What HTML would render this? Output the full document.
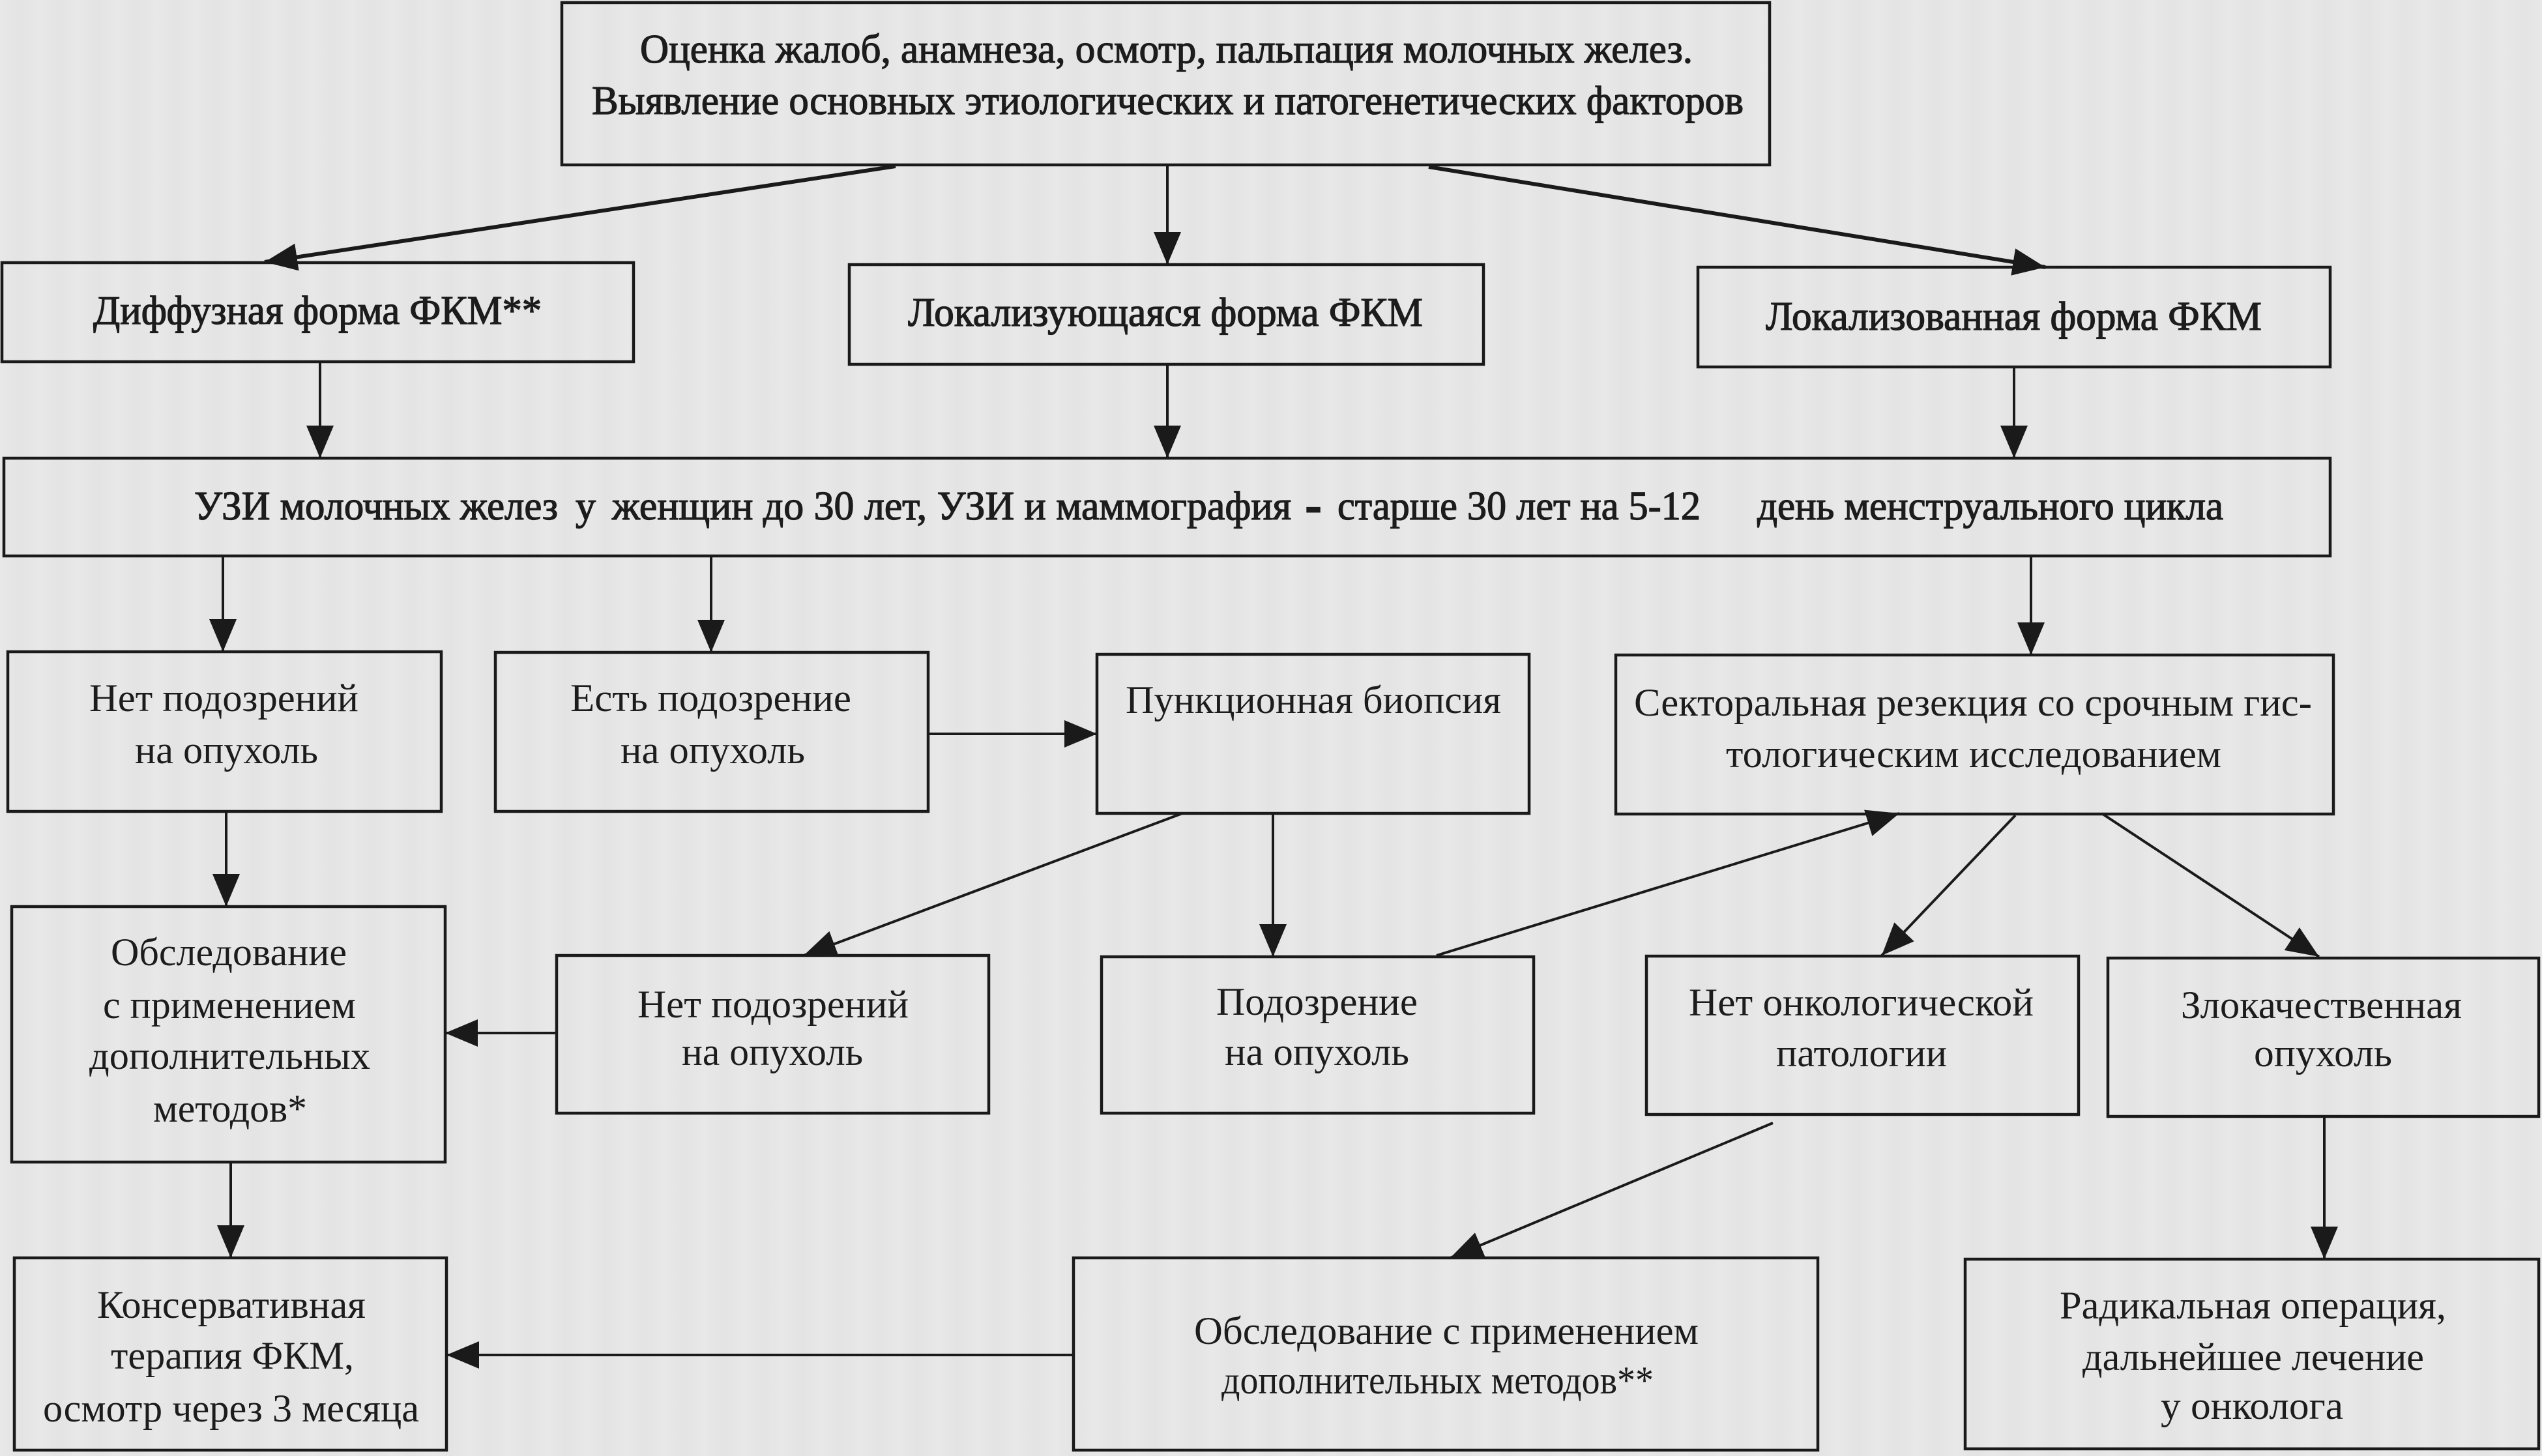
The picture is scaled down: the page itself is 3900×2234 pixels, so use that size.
<!DOCTYPE html>
<html>
<head>
<meta charset="utf-8">
<style>
  html,body{margin:0;padding:0;}
  body{width:3900px;height:2234px;overflow:hidden;
    background:#e8e8e8;
    background-image:repeating-linear-gradient(90deg, rgba(0,0,0,0.00) 0px, rgba(0,0,0,0.018) 30px, rgba(0,0,0,0.00) 60px);
  }
  svg{position:absolute;left:0;top:0;}
  text{font-family:"Liberation Serif","Noto Serif CJK SC",serif;fill:#1c1c1c;}
  .t{font-size:62px;stroke:#1c1c1c;stroke-width:1.3px;}
  .l{font-size:60px;}
</style>
</head>
<body>
<svg width="3900" height="2234" viewBox="0 0 3900 2234" xmlns="http://www.w3.org/2000/svg">
  <defs>
    <marker id="a" viewBox="0 0 50 42" refX="50" refY="21" markerWidth="50" markerHeight="42" markerUnits="userSpaceOnUse" orient="auto">
      <path d="M0,0 L50,21 L0,42 z" fill="#1a1a1a"/>
    </marker>
  </defs>

  <!-- Boxes -->
  <g fill="none" stroke="#1a1a1a" stroke-width="4.5">
    <rect x="862" y="4" width="1853" height="249"/>
    <rect x="3" y="403" width="969" height="152"/>
    <rect x="1303" y="406" width="973" height="153"/>
    <rect x="2605" y="410" width="970" height="153"/>
    <rect x="6" y="703" width="3569" height="150"/>
    <rect x="12" y="1000" width="665" height="245"/>
    <rect x="760" y="1001" width="664" height="244"/>
    <rect x="1683" y="1004" width="663" height="244"/>
    <rect x="2479" y="1005" width="1101" height="244"/>
    <rect x="18" y="1391" width="665" height="392"/>
    <rect x="854" y="1466" width="663" height="242"/>
    <rect x="1690" y="1468" width="663" height="240"/>
    <rect x="2526" y="1467" width="663" height="243"/>
    <rect x="3234" y="1470" width="661" height="243"/>
    <rect x="22" y="1930" width="663" height="295"/>
    <rect x="1647" y="1930" width="1142" height="295"/>
    <rect x="3015" y="1932" width="880" height="291"/>
  </g>

  <!-- Connectors -->
  <g fill="none" stroke="#1a1a1a" stroke-width="4" marker-end="url(#a)">
    <line x1="1374" y1="255" x2="406" y2="402" stroke-width="6"/>
    <line x1="1791" y1="253" x2="1791" y2="406"/>
    <line x1="2192" y1="256" x2="3138" y2="410" stroke-width="6"/>
    <line x1="491" y1="555" x2="491" y2="703"/>
    <line x1="1791" y1="559" x2="1791" y2="703"/>
    <line x1="3090" y1="563" x2="3090" y2="703"/>
    <line x1="342" y1="853" x2="342" y2="1000"/>
    <line x1="1091" y1="853" x2="1091" y2="1001"/>
    <line x1="3116" y1="853" x2="3116" y2="1005"/>
    <line x1="1424" y1="1126" x2="1683" y2="1126"/>
    <line x1="1814" y1="1248" x2="1233" y2="1466"/>
    <line x1="1953" y1="1248" x2="1953" y2="1468"/>
    <line x1="854" y1="1585" x2="683" y2="1585"/>
    <line x1="2204" y1="1466" x2="2914" y2="1248"/>
    <line x1="3092" y1="1251" x2="2887" y2="1466"/>
    <line x1="3226" y1="1249" x2="3558" y2="1468"/>
    <line x1="347" y1="1245" x2="347" y2="1391"/>
    <line x1="354" y1="1783" x2="354" y2="1930"/>
    <line x1="3566" y1="1713" x2="3566" y2="1932"/>
    <line x1="2720" y1="1723" x2="2225" y2="1930"/>
    <line x1="1647" y1="2079" x2="685" y2="2079"/>
  </g>

  <!-- Top section text -->
  <text class="t" x="982" y="96" textLength="1615" lengthAdjust="spacingAndGlyphs">Оценка жалоб, анамнеза, осмотр, пальпация молочных желез.</text>
  <text class="t" x="908" y="175" textLength="1767" lengthAdjust="spacingAndGlyphs">Выявление основных этиологических и патогенетических факторов</text>
  <text class="t" x="143" y="497" textLength="688" lengthAdjust="spacingAndGlyphs">Диффузная форма ФКМ**</text>
  <text class="t" x="1393" y="500" textLength="790" lengthAdjust="spacingAndGlyphs">Локализующаяся форма ФКМ</text>
  <text class="t" x="2709" y="506" textLength="761" lengthAdjust="spacingAndGlyphs">Локализованная форма ФКМ</text>

  <text class="t" x="298" y="797" textLength="558" lengthAdjust="spacingAndGlyphs">УЗИ молочных желез</text>
  <text class="t" x="883" y="797" textLength="31" lengthAdjust="spacingAndGlyphs">у</text>
  <text class="t" x="939" y="797" textLength="1042" lengthAdjust="spacingAndGlyphs">женщин до 30 лет, УЗИ и маммография</text>
  <text class="t" x="2004" y="797" textLength="22" lengthAdjust="spacingAndGlyphs" style="stroke-width:4px">-</text>
  <text class="t" x="2052" y="797" textLength="557" lengthAdjust="spacingAndGlyphs">старше 30 лет на 5-12</text>
  <text class="t" x="2696" y="797" textLength="715" lengthAdjust="spacingAndGlyphs">день менструального цикла</text>

  <!-- Row A -->
  <text class="l" x="137" y="1091" textLength="413" lengthAdjust="spacingAndGlyphs">Нет подозрений</text>
  <text class="l" x="207" y="1171" textLength="281" lengthAdjust="spacingAndGlyphs">на опухоль</text>
  <text class="l" x="875" y="1091" textLength="431" lengthAdjust="spacingAndGlyphs">Есть подозрение</text>
  <text class="l" x="952" y="1171" textLength="283" lengthAdjust="spacingAndGlyphs">на опухоль</text>
  <text class="l" x="1727" y="1094" textLength="576" lengthAdjust="spacingAndGlyphs">Пункционная биопсия</text>
  <text class="l" x="2507" y="1098" textLength="1040" lengthAdjust="spacingAndGlyphs">Секторальная резекция со срочным гис-</text>
  <text class="l" x="2648" y="1177" textLength="760" lengthAdjust="spacingAndGlyphs">тологическим исследованием</text>

  <!-- Row B -->
  <text class="l" x="170" y="1481" textLength="362" lengthAdjust="spacingAndGlyphs">Обследование</text>
  <text class="l" x="158" y="1562" textLength="388" lengthAdjust="spacingAndGlyphs">с применением</text>
  <text class="l" x="137" y="1640" textLength="431" lengthAdjust="spacingAndGlyphs">дополнительных</text>
  <text class="l" x="235" y="1721" textLength="236" lengthAdjust="spacingAndGlyphs">методов*</text>
  <text class="l" x="978" y="1561" textLength="416" lengthAdjust="spacingAndGlyphs">Нет подозрений</text>
  <text class="l" x="1046" y="1634" textLength="278" lengthAdjust="spacingAndGlyphs">на опухоль</text>
  <text class="l" x="1866" y="1557" textLength="309" lengthAdjust="spacingAndGlyphs">Подозрение</text>
  <text class="l" x="1879" y="1634" textLength="283" lengthAdjust="spacingAndGlyphs">на опухоль</text>
  <text class="l" x="2591" y="1558" textLength="529" lengthAdjust="spacingAndGlyphs">Нет онкологической</text>
  <text class="l" x="2725" y="1636" textLength="262" lengthAdjust="spacingAndGlyphs">патологии</text>
  <text class="l" x="3346" y="1562" textLength="431" lengthAdjust="spacingAndGlyphs">Злокачественная</text>
  <text class="l" x="3458" y="1636" textLength="212" lengthAdjust="spacingAndGlyphs">опухоль</text>

  <!-- Row C -->
  <text class="l" x="149" y="2022" textLength="412" lengthAdjust="spacingAndGlyphs">Консервативная</text>
  <text class="l" x="170" y="2100" textLength="373" lengthAdjust="spacingAndGlyphs">терапия ФКМ,</text>
  <text class="l" x="66" y="2181" textLength="577" lengthAdjust="spacingAndGlyphs">осмотр через 3 месяца</text>
  <text class="l" x="1832" y="2062" textLength="774" lengthAdjust="spacingAndGlyphs">Обследование с применением</text>
  <text class="l" x="1874" y="2138" textLength="663" lengthAdjust="spacingAndGlyphs">дополнительных методов**</text>
  <text class="l" x="3160" y="2023" textLength="593" lengthAdjust="spacingAndGlyphs">Радикальная операция,</text>
  <text class="l" x="3195" y="2102" textLength="524" lengthAdjust="spacingAndGlyphs">дальнейшее лечение</text>
  <text class="l" x="3315" y="2177" textLength="280" lengthAdjust="spacingAndGlyphs">у онколога</text>
</svg>
</body>
</html>
